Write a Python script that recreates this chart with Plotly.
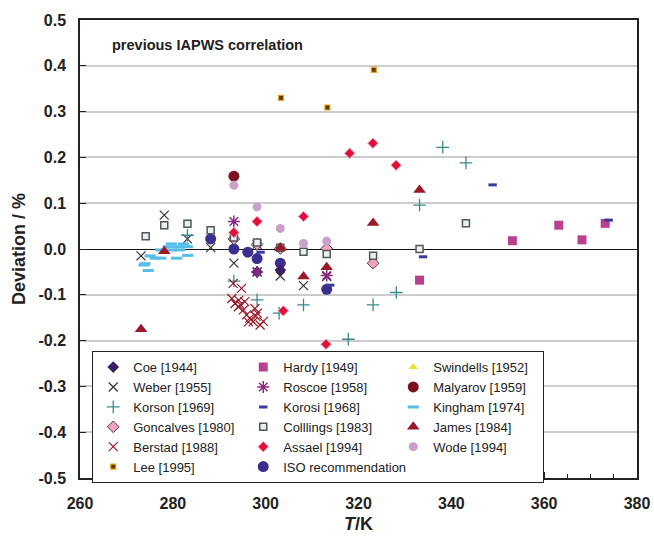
import plotly.graph_objects as go

# ---------------- data (T / K, deviation / %) ----------------
coe_T = [298.15, 303.15]
coe_d = [-0.050, -0.046]

hardy_T = [333.15, 353.15, 363.15, 368.15, 373.15]
hardy_d = [-0.068, 0.018, 0.052, 0.020, 0.056]

swindells_T = [293.15]
swindells_d = [0.001]

weber_T = [273.15, 278.15, 283.15, 288.15, 293.15, 298.15, 298.15, 303.15, 308.15, 313.15]
weber_d = [-0.015, 0.074, 0.022, 0.003, -0.031, -0.050, 0.010, -0.059, -0.080, -0.060]

roscoe_T = [293.15, 298.15, 313.15]
roscoe_d = [0.060, -0.050, -0.058]

malyarov_T = [293.15]
malyarov_d = [0.159]

korson_T = [283.15, 293.15, 298.15, 302.9, 308.15, 317.8, 323.15, 328.15, 333.15, 338.15, 343.15]
korson_d = [0.030, -0.070, -0.111, -0.140, -0.122, -0.197, -0.122, -0.095, 0.096, 0.222, 0.188]

korosi_T = [298.9, 313.9, 333.9, 348.9, 373.9]
korosi_d = [-0.007, -0.079, -0.017, 0.140, 0.063]

kingham_T = [279.7, 282.3, 279.0, 281.4, 283.1, 277.4, 279.7, 281.5, 275.1, 276.2,
             277.4, 280.8, 283.2, 274.0, 274.7, 273.8]
kingham_d = [0.011, 0.011, 0.005, 0.005, 0.005, -0.002, -0.002, -0.002, -0.015, -0.020,
             -0.020, -0.020, -0.014, -0.032, -0.047, -0.035]

goncalves_T = [293.15, 298.15, 303.15, 313.15, 323.15]
goncalves_d = [0.022, 0.010, 0.001, 0.001, -0.031]

collings_T = [274.15, 278.15, 283.15, 288.15, 293.15, 298.15, 303.15, 308.15, 313.15, 323.15, 333.15, 343.15]
collings_d = [0.028, 0.052, 0.055, 0.041, 0.025, 0.014, 0.003, -0.006, -0.011, -0.015, 0.000, 0.056]

james_T = [273.15, 278.15, 303.15, 308.15, 313.15, 323.15, 333.15]
james_d = [-0.175, -0.005, 0.002, -0.060, -0.040, 0.057, 0.129]

berstad_T = [293.0, 294.8, 292.7, 293.4, 294.1, 294.6, 295.2, 295.5, 297.7, 295.9,
             296.6, 297.3, 298.8, 296.3, 297.9, 294.2, 299.5, 298.2]
berstad_d = [-0.075, -0.086, -0.108, -0.119, -0.126, -0.122, -0.133, -0.115, -0.130, -0.144,
             -0.151, -0.159, -0.166, -0.159, -0.147, -0.112, -0.158, -0.140]

assael_T = [293.15, 298.15, 303.8, 308.15, 313.0, 318.1, 323.1, 328.1]
assael_d = [0.036, 0.060, -0.135, 0.071, -0.208, 0.209, 0.231, 0.183]

wode_T = [293.15, 298.15, 303.15, 308.15, 313.15]
wode_d = [0.139, 0.092, 0.045, 0.012, 0.017]

lee_T = [303.3, 313.3, 323.3]
lee_d = [0.330, 0.309, 0.391]

iso_T = [288.15, 293.15, 296.15, 298.15, 303.15, 313.15]
iso_d = [0.022, 0.000, -0.007, -0.021, -0.031, -0.088]

x_ticks = [260, 280, 300, 320, 340, 360, 380]
y_ticks = [-0.5, -0.4, -0.3, -0.2, -0.1, 0.0, 0.1, 0.2, 0.3, 0.4, 0.5]
y_tick_text = ["-0.5", "-0.4", "-0.3", "-0.2", "-0.1", "0.0", "0.1", "0.2", "0.3", "0.4", "0.5"]

# ---------------- styles ----------------
series = [
    # name, T, d, legend rank, marker
    ("Swindells [1952]", swindells_T, swindells_d, 3, dict(symbol="triangle-up", size=8, color="#e6e630")),
    ("ISO recommendation", iso_T, iso_d, 17, dict(symbol="circle", size=11, color="#3a2f8f")),
    ("Coe [1944]", coe_T, coe_d, 1, dict(symbol="diamond", size=9, color="#3b1f66")),
    ("Hardy [1949]", hardy_T, hardy_d, 2, dict(symbol="square", size=9, color="#b8408f")),
    ("Weber [1955]", weber_T, weber_d, 4, dict(symbol="x-thin-open", size=9, color="#333333", line=dict(width=1.2, color="#333333"))),
    ("Roscoe [1958]", roscoe_T, roscoe_d, 5, dict(symbol="asterisk-open", size=10, color="#8b2a82", line=dict(width=1.5, color="#8b2a82"))),
    ("Malyarov [1959]", malyarov_T, malyarov_d, 6, dict(symbol="circle", size=11, color="#7a1020")),
    ("Korson [1969]", korson_T, korson_d, 7, dict(symbol="cross-thin-open", size=9, color="#3a8a8a", line=dict(width=1.3, color="#3a8a8a"))),
    ("Korosi [1968]", korosi_T, korosi_d, 8, dict(symbol="line-ew-open", size=6, color="#3b3b9b", line=dict(width=3, color="#3b3b9b"))),
    ("Kingham [1974]", kingham_T, kingham_d, 9, dict(symbol="line-ew-open", size=8, color="#55bde8", line=dict(width=3, color="#55bde8"))),
    ("Goncalves [1980]", goncalves_T, goncalves_d, 10, dict(symbol="diamond", size=9, color="#f4a0c0", line=dict(width=1, color="#444444"))),
    ("Colllings [1983]", collings_T, collings_d, 11, dict(symbol="square", size=7, color="#e4f2f4", line=dict(width=1.5, color="#555555"))),
    ("James [1984]", james_T, james_d, 12, dict(symbol="triangle-up", size=11, color="#9a1a2a")),
    ("Berstad [1988]", berstad_T, berstad_d, 13, dict(symbol="x-thin-open", size=9, color="#9a1a2a", line=dict(width=1.2, color="#9a1a2a"))),
    ("Assael [1994]", assael_T, assael_d, 14, dict(symbol="diamond", size=8, color="#e0103a", line=dict(width=1, color="#f7a0b0"))),
    ("Wode [1994]", wode_T, wode_d, 15, dict(symbol="circle", size=9, color="#c9a0c9")),
    ("Lee [1995]", lee_T, lee_d, 16, dict(symbol="square", size=5, color="#5a3a10", line=dict(width=1.2, color="#e8a020"))),
]

fig = go.Figure()
for name, T, d, rank, mk in series:
    fig.add_trace(go.Scatter(x=T, y=d, mode="markers", name=name, legendrank=rank,
                             marker=mk, hoverinfo="skip"))

tick_font = dict(family="Liberation Sans, Arial, sans-serif", size=16, color="#222222", weight="bold")
title_font = dict(family="Liberation Sans, Arial, sans-serif", size=18, color="#222222", weight="bold")

fig.update_layout(
    width=654, height=537,
    margin=dict(l=80, r=17, t=20, b=59, autoexpand=False),
    paper_bgcolor="white", plot_bgcolor="white",
    font=dict(family="Liberation Sans, Arial, sans-serif", color="#222222"),
    showlegend=True,
    legend=dict(
        orientation="h", entrywidth=105, entrywidthmode="pixels",
        x=0.022, xanchor="left", y=0.277, yanchor="top",
        bgcolor="white", bordercolor="#222222", borderwidth=1,
        font=dict(size=13, family="Liberation Sans, Arial, sans-serif", color="#222222"),
        traceorder="normal", itemwidth=30,
    ),
    annotations=[dict(text="<b>previous IAPWS correlation</b>", xref="paper", yref="paper",
                      x=0.054, y=0.945, xanchor="left", yanchor="middle", showarrow=False,
                      font=dict(size=14.5, family="Liberation Sans, Arial, sans-serif", color="#222222"))],
)

fig.update_xaxes(
    range=[260, 380], tickvals=x_ticks, ticktext=[str(v) for v in x_ticks],
    ticks="inside", ticklen=6, tickcolor="#222222", tickwidth=1,
    minor=dict(dtick=5, ticks="inside", ticklen=4, tickcolor="#222222", showgrid=False),
    showgrid=False, zeroline=False, automargin=False,
    showline=True, linecolor="#222222", linewidth=1.5, mirror=True,
    tickfont=tick_font, ticklabelstandoff=10,
    title=dict(text="<i>T</i>/K", font=title_font, standoff=6),
)
fig.update_yaxes(
    range=[-0.5, 0.5], tickvals=y_ticks, ticktext=y_tick_text,
    ticks="inside", ticklen=6, tickcolor="#222222", tickwidth=1,
    showgrid=True, gridcolor="#cccccc", gridwidth=1.5,
    zeroline=True, zerolinecolor="#111111", zerolinewidth=1.3,
    showline=True, linecolor="#222222", linewidth=1.5, mirror=True, automargin=False,
    tickfont=tick_font, ticklabelstandoff=9,
    title=dict(text="Deviation / %", font=title_font, standoff=8),
)

fig.write_html("out.html")
